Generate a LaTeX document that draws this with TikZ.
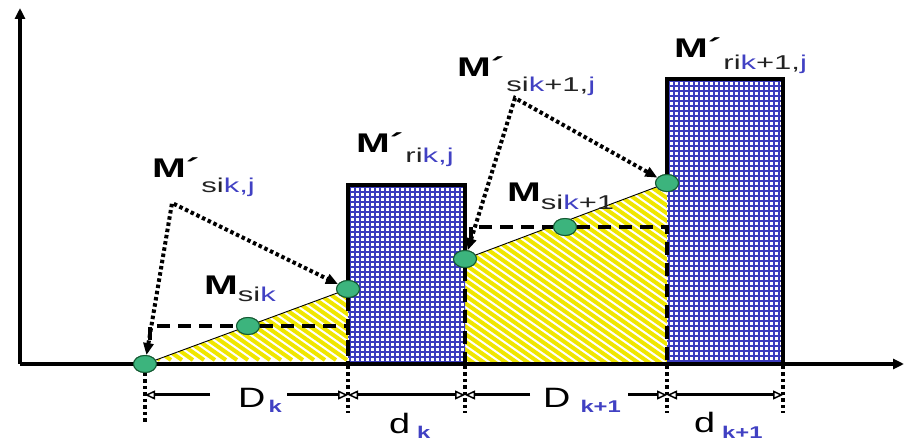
\documentclass[tikz,border=0pt]{standalone}
\usepackage{fontspec}
\setmainfont{Liberation Sans}
\usepackage{graphicx}
\usetikzlibrary{arrows.meta,shapes.geometric}
\definecolor{kb}{RGB}{65,65,195}
\definecolor{gridb}{RGB}{60,60,190}
\definecolor{hy}{RGB}{240,230,0}
\definecolor{dotg}{RGB}{60,180,125}
\definecolor{dotd}{RGB}{20,90,50}
\definecolor{sg}{RGB}{35,35,35}
\newcommand\bigM[1]{\scalebox{1.5}[1]{\fontsize{27}{27}\selectfont\bfseries M#1}}
\newcommand\subx[2]{\raisebox{-#1}{\scalebox{1.55}[1]{\fontsize{20}{20}\selectfont #2}}}
\newcommand\kblu[1]{\textcolor{kb}{#1}}
\newcommand\gblk[1]{\textcolor{sg}{#1}}
\newcommand\bigD[1]{\scalebox{1.35}[1]{\fontsize{28}{28}\selectfont #1}}
\newcommand\dsub[2]{\raisebox{-#1}{\scalebox{1.4}[1]{\fontsize{17}{17}\selectfont\bfseries\color{kb}#2}}}
\tikzset{
  x=1pt, y=-1pt,
  dot/.style={ellipse, fill=dotg, draw=dotd, line width=1pt, minimum width=23pt, minimum height=17pt, inner sep=0pt},
  axisline/.style={line width=3.5pt, -{Triangle[length=11pt,width=10pt]}},
  rb/.style={line width=4.5pt, line join=miter, line cap=rect},
  dsh/.style={line width=3.5pt, dash pattern=on 13pt off 8pt},
  dotarr/.style={line width=4pt, dash pattern=on 3.5pt off 2.8pt, {Triangle[length=12pt,width=10pt]}-{Triangle[length=12pt,width=10pt]}},
  ext/.style={line width=4pt, dash pattern=on 3.5pt off 3pt},
  dimtip/.tip={Triangle[open, length=10pt, width=9pt, line width=1.5pt, fill=white]},
  dim/.style={line width=3pt},
  lab/.style={anchor=base west, inner sep=0pt},
  hatchline/.style={hy, line width=4pt},
  gridline/.style={gridb, line width=1.9pt}
}
\begin{document}
\begin{tikzpicture}
\useasboundingbox (0,0) rectangle (905,443);
% hatched yellow regions
\begin{scope}
  \clip (145,364) -- (348,289) -- (348,364) -- cycle;
  \foreach \i in {0,...,60} \draw[hatchline] ({\i*11-250},150) -- ++(300,210);
\end{scope}
\begin{scope}
  \clip (465,364) -- (465,259) -- (667,183) -- (667,364) -- cycle;
  \foreach \i in {0,...,90} \draw[hatchline] ({\i*11-100},100) -- ++(400,280);
\end{scope}
% blue grids
\fill[white] (348,185) rectangle (465,364);
\begin{scope}
  \clip (348,185) rectangle (465,364);
  \foreach \i in {0,...,24} \draw[gridline] ({350+\i*5},185) -- ++(0,179);
  \foreach \i in {0,...,36} \draw[gridline] (348,{187+\i*5}) -- ++(117,0);
\end{scope}
\fill[white] (667,79) rectangle (783,364);
\begin{scope}
  \clip (667,79) rectangle (783,364);
  \foreach \i in {0,...,24} \draw[gridline] ({669+\i*5},79) -- ++(0,285);
  \foreach \i in {0,...,58} \draw[gridline] (667,{81+\i*5}) -- ++(116,0);
\end{scope}
% coordinates
\coordinate (o) at (20,364);
\coordinate (yt) at (20,8);
\coordinate (xt) at (904,364);
\coordinate (r1a) at (348,185);
\coordinate (r1b) at (465,185);
\coordinate (r2a) at (667,79);
\coordinate (r2b) at (783,79);
\coordinate (r2c) at (783,364);
\coordinate (a1) at (172,203);
\coordinate (a2) at (515,98);
% dots (positions)
\path (145,364) node[dot] (p0) {}
      (248,326) node[dot] (m1) {}
      (348,289) node[dot] (d1) {}
      (465,259) node[dot] (d2) {}
      (565,227) node[dot] (m2) {}
      (667,183) node[dot] (d3) {};
% thin sloped lines
\draw[line width=0.9pt] (p0.center) -- (d1.center);
\draw[line width=0.9pt] (d2.center) -- (d3.center);
% dashed lines
\draw[dsh] (150,340) -- (150,326) -- (m1) -- (348,326) -- (348,364);
\draw[dsh] (d1) -- (348,364);
\draw[dsh] (471,240) -- (471,227) -- (m2) -- (667,227) -- (667,364);
\draw[dsh] (d2) -- (465,364);
% axes
\draw[axisline] (o) -- (yt);
\draw[axisline] (o) -- (xt);
% rectangle borders
\draw[rb] (d1) -- (r1a) -- (r1b) -- (d2);
\draw[rb] (d3) -- (r2a) -- (r2b) -- (r2c);
% extension lines
\coordinate (t1) at (348,366); \coordinate (t2) at (465,366);
\coordinate (t3) at (667,366); \coordinate (t4) at (783,366);
\coordinate (e0) at (145,422); \coordinate (e1) at (348,413);
\coordinate (e2) at (465,413); \coordinate (e3) at (667,413);
\coordinate (e4) at (783,413);
\draw[ext] (p0) -- (e0);
\draw[ext] (t1) -- (e1);
\draw[ext] (t2) -- (e2);
\draw[ext] (t3) -- (e3);
\draw[ext] (t4) -- (e4);
% dots on top
\path (145,364) node[dot] {}
      (248,326) node[dot] {}
      (348,289) node[dot] {}
      (465,259) node[dot] {}
      (565,227) node[dot] {}
      (667,183) node[dot] {};
% dotted arrows
\draw[dotarr] (p0) -- (a1) -- (d1);
\draw[dotarr] (d2) -- (a2) -- (d3);
% dimension lines
\coordinate (c0) at (145,395); \coordinate (c1) at (348,395);
\coordinate (c2) at (465,395); \coordinate (c3) at (667,395);
\coordinate (c4) at (783,395);
\coordinate (k1) at (210,395); \coordinate (k2) at (287,395);
\coordinate (k3) at (530,395); \coordinate (k4) at (628,395);
\draw[dim,-dimtip] (k1) -- (c0);
\draw[dim,-dimtip] (k2) -- (c1);
\draw[dim,dimtip-dimtip] (c1) -- (c2);
\draw[dim,-dimtip] (k3) -- (c2);
\draw[dim,-dimtip] (k4) -- (c3);
\draw[dim,dimtip-dimtip] (c3) -- (c4);
% dimension labels
\node[lab] (Dk) at (238,408) {\bigD{D}\hspace{3pt}\dsub{5pt}{k}};
\node[lab] (dk) at (389,434) {\bigD{d}\hspace{7pt}\dsub{5pt}{k}};
\node[lab] (Dk1) at (543,408) {\bigD{D}\hspace{10pt}\dsub{5pt}{k+1}};
\node[lab] (dk1) at (694,432) {\bigD{d}\hspace{7pt}\dsub{6pt}{k+1}};
% M labels
\node[lab] (L1) at (152,178) {\bigM{´}\hspace{2pt}\subx{15pt}{\gblk{si}\kblu{k,j}}};
\node[lab] (L2) at (204,295) {\bigM{}\subx{7pt}{\gblk{si}\kblu{k}}};
\node[lab] (L3) at (356,153) {\bigM{´}\hspace{2pt}\subx{10pt}{\gblk{ri}\kblu{k,j}}};
\node[lab] (L4) at (457,77) {\bigM{´}\hspace{2pt}\subx{15pt}{\gblk{si}\kblu{k}\gblk{+1,}\kblu{j}}};
\node[lab] (L5) at (507,202) {\bigM{}\subx{8pt}{\gblk{si}\kblu{k}\gblk{+1}}};
\node[lab] (L6) at (674,58) {\bigM{´}\hspace{2pt}\subx{12pt}{\gblk{ri}\kblu{k}\gblk{+1}\gblk{,}\kblu{j}}};
\end{tikzpicture}
\end{document}
